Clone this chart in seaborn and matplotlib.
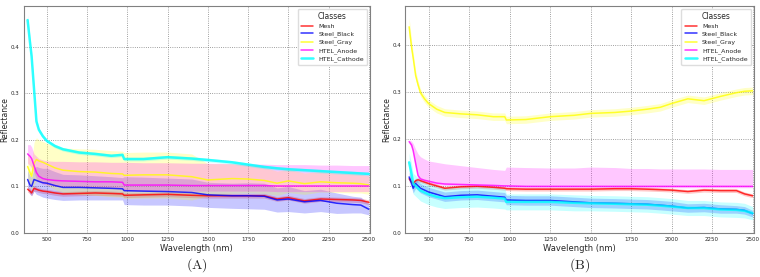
import numpy as np
import pandas as pd
import matplotlib
matplotlib.use('Agg')
import matplotlib.pyplot as plt
import seaborn as sns

wavelength = [380, 395, 405, 420, 435, 450, 475, 500, 550, 600, 700, 800, 900, 970, 980,
              1100, 1250, 1400, 1500, 1650, 1750, 1850, 1930, 2000, 2100, 2200, 2300,
              2400, 2450, 2500]

classes = ['Mesh', 'Steel_Black', 'Steel_Gray', 'HTEL_Anode', 'HTEL_Cathode']
colors = {'Mesh': 'red', 'Steel_Black': 'blue', 'Steel_Gray': 'yellow',
          'HTEL_Anode': 'magenta', 'HTEL_Cathode': 'cyan'}

# ---- panel (A) ----
a_mesh = [0.094, 0.090, 0.086, 0.096, 0.094, 0.092, 0.090, 0.089, 0.086, 0.084, 0.085, 0.086,
          0.085, 0.084, 0.081, 0.082, 0.083, 0.081, 0.080, 0.080, 0.080, 0.080, 0.073, 0.076,
          0.069, 0.073, 0.072, 0.071, 0.070, 0.066]
a_mesh_lo = [0.088, 0.084, 0.080, 0.090, 0.089, 0.087, 0.085, 0.084, 0.081, 0.079, 0.080, 0.081,
             0.080, 0.079, 0.076, 0.077, 0.078, 0.076, 0.075, 0.075, 0.075, 0.075, 0.068, 0.071,
             0.064, 0.068, 0.067, 0.066, 0.065, 0.061]
a_mesh_hi = [0.100, 0.096, 0.092, 0.102, 0.099, 0.097, 0.095, 0.094, 0.091, 0.089, 0.090, 0.091,
             0.090, 0.089, 0.086, 0.087, 0.088, 0.086, 0.085, 0.085, 0.085, 0.085, 0.078, 0.081,
             0.074, 0.078, 0.077, 0.076, 0.075, 0.071]

a_black = [0.115, 0.103, 0.100, 0.115, 0.113, 0.111, 0.108, 0.107, 0.102, 0.098, 0.098, 0.097,
           0.096, 0.095, 0.091, 0.090, 0.089, 0.087, 0.082, 0.080, 0.080, 0.079, 0.071, 0.073,
           0.067, 0.070, 0.064, 0.061, 0.060, 0.051]
a_black_lo = [0.095, 0.083, 0.080, 0.090, 0.083, 0.081, 0.077, 0.075, 0.072, 0.070, 0.071, 0.071,
              0.071, 0.071, 0.061, 0.060, 0.060, 0.058, 0.055, 0.053, 0.052, 0.051, 0.045, 0.046,
              0.043, 0.046, 0.042, 0.043, 0.043, 0.039]
a_black_hi = [0.135, 0.123, 0.120, 0.140, 0.143, 0.141, 0.139, 0.139, 0.132, 0.126, 0.125, 0.123,
              0.121, 0.119, 0.121, 0.120, 0.118, 0.116, 0.109, 0.107, 0.108, 0.107, 0.097, 0.100,
              0.091, 0.094, 0.086, 0.079, 0.077, 0.063]

a_gray = [0.143, 0.130, 0.122, 0.150, 0.158, 0.155, 0.152, 0.148, 0.140, 0.135, 0.132, 0.131,
          0.128, 0.127, 0.124, 0.125, 0.125, 0.121, 0.114, 0.117, 0.116, 0.113, 0.107, 0.112,
          0.106, 0.110, 0.108, 0.107, 0.106, 0.103]
a_gray_lo = [0.113, 0.100, 0.092, 0.105, 0.111, 0.110, 0.107, 0.103, 0.093, 0.087, 0.083, 0.081,
             0.078, 0.077, 0.074, 0.075, 0.075, 0.071, 0.079, 0.085, 0.086, 0.085, 0.081, 0.087,
             0.083, 0.088, 0.087, 0.086, 0.086, 0.083]
a_gray_hi = [0.173, 0.160, 0.152, 0.195, 0.205, 0.200, 0.197, 0.193, 0.187, 0.183, 0.181, 0.180,
             0.177, 0.176, 0.173, 0.174, 0.174, 0.170, 0.149, 0.149, 0.146, 0.141, 0.133, 0.137,
             0.129, 0.132, 0.129, 0.128, 0.126, 0.123]

a_anode = [0.170, 0.165, 0.160, 0.145, 0.130, 0.122, 0.117, 0.115, 0.113, 0.112, 0.111, 0.110,
           0.110, 0.109, 0.103, 0.103, 0.103, 0.102, 0.102, 0.102, 0.102, 0.102, 0.101, 0.101,
           0.101, 0.101, 0.101, 0.101, 0.101, 0.101]
a_anode_lo = [0.150, 0.145, 0.140, 0.130, 0.117, 0.110, 0.105, 0.103, 0.101, 0.100, 0.099, 0.098,
              0.098, 0.097, 0.091, 0.091, 0.091, 0.090, 0.090, 0.090, 0.090, 0.090, 0.089, 0.089,
              0.089, 0.089, 0.089, 0.089, 0.089, 0.089]
a_anode_hi = [0.190, 0.190, 0.185, 0.170, 0.165, 0.160, 0.157, 0.155, 0.154, 0.154, 0.153, 0.153,
              0.152, 0.152, 0.152, 0.151, 0.151, 0.150, 0.150, 0.149, 0.148, 0.148, 0.147, 0.147,
              0.147, 0.146, 0.146, 0.145, 0.145, 0.145]

a_cathode = [0.458, 0.410, 0.380, 0.310, 0.240, 0.222, 0.208, 0.198, 0.187, 0.180, 0.173, 0.170,
             0.166, 0.168, 0.159, 0.159, 0.163, 0.160, 0.157, 0.152, 0.147, 0.142, 0.139, 0.137,
             0.135, 0.133, 0.131, 0.129, 0.128, 0.127]
a_cathode_lo = [0.446, 0.398, 0.370, 0.302, 0.234, 0.217, 0.203, 0.194, 0.183, 0.176, 0.169, 0.166,
                0.162, 0.164, 0.155, 0.155, 0.159, 0.156, 0.153, 0.148, 0.143, 0.138, 0.135, 0.133,
                0.131, 0.129, 0.127, 0.125, 0.124, 0.123]
a_cathode_hi = [0.470, 0.422, 0.390, 0.318, 0.246, 0.227, 0.213, 0.202, 0.191, 0.184, 0.177, 0.174,
                0.170, 0.172, 0.163, 0.163, 0.167, 0.164, 0.161, 0.156, 0.151, 0.146, 0.143, 0.141,
                0.139, 0.137, 0.135, 0.133, 0.132, 0.131]

# ---- panel (B) ----
b_mesh = [0.115, 0.108, 0.105, 0.111, 0.113, 0.111, 0.108, 0.105, 0.100, 0.095, 0.098, 0.099,
          0.097, 0.095, 0.094, 0.093, 0.093, 0.093, 0.093, 0.094, 0.094, 0.093, 0.092, 0.091,
          0.088, 0.091, 0.090, 0.090, 0.083, 0.079]
b_mesh_lo = [0.110, 0.103, 0.100, 0.106, 0.109, 0.107, 0.104, 0.101, 0.096, 0.091, 0.094, 0.095,
             0.093, 0.091, 0.090, 0.089, 0.089, 0.089, 0.089, 0.090, 0.090, 0.089, 0.088, 0.087,
             0.084, 0.087, 0.086, 0.086, 0.079, 0.075]
b_mesh_hi = [0.120, 0.113, 0.110, 0.116, 0.117, 0.115, 0.112, 0.109, 0.104, 0.099, 0.102, 0.103,
             0.101, 0.099, 0.098, 0.097, 0.097, 0.097, 0.097, 0.098, 0.098, 0.097, 0.096, 0.095,
             0.092, 0.095, 0.094, 0.094, 0.087, 0.083]

b_black = [0.119, 0.106, 0.095, 0.105, 0.100, 0.095, 0.091, 0.087, 0.082, 0.077, 0.080, 0.081,
           0.078, 0.076, 0.070, 0.069, 0.069, 0.066, 0.064, 0.063, 0.062, 0.061, 0.059, 0.057,
           0.053, 0.054, 0.051, 0.050, 0.048, 0.041]
b_black_lo = [0.109, 0.096, 0.085, 0.095, 0.090, 0.085, 0.081, 0.077, 0.072, 0.067, 0.070, 0.071,
              0.068, 0.066, 0.060, 0.059, 0.059, 0.056, 0.054, 0.053, 0.052, 0.051, 0.049, 0.047,
              0.044, 0.045, 0.042, 0.042, 0.040, 0.034]
b_black_hi = [0.129, 0.116, 0.105, 0.115, 0.110, 0.105, 0.101, 0.097, 0.092, 0.087, 0.090, 0.091,
              0.088, 0.086, 0.080, 0.079, 0.079, 0.076, 0.074, 0.073, 0.072, 0.071, 0.069, 0.067,
              0.062, 0.063, 0.060, 0.058, 0.056, 0.048]

b_gray = [0.438, 0.395, 0.372, 0.335, 0.315, 0.298, 0.285, 0.275, 0.263, 0.256, 0.253, 0.251,
          0.247, 0.247, 0.240, 0.241, 0.247, 0.250, 0.254, 0.256, 0.259, 0.263, 0.267, 0.275,
          0.285, 0.281, 0.290, 0.298, 0.301, 0.302]
b_gray_lo = [0.418, 0.380, 0.360, 0.325, 0.306, 0.290, 0.277, 0.267, 0.255, 0.248, 0.245, 0.243,
             0.239, 0.239, 0.232, 0.233, 0.239, 0.242, 0.246, 0.248, 0.251, 0.255, 0.259, 0.267,
             0.277, 0.273, 0.282, 0.290, 0.293, 0.294]
b_gray_hi = [0.458, 0.410, 0.384, 0.345, 0.324, 0.306, 0.293, 0.283, 0.271, 0.264, 0.261, 0.259,
             0.255, 0.255, 0.248, 0.249, 0.255, 0.258, 0.262, 0.264, 0.267, 0.271, 0.275, 0.283,
             0.293, 0.289, 0.298, 0.306, 0.309, 0.310]

b_anode = [0.194, 0.187, 0.175, 0.148, 0.122, 0.115, 0.112, 0.110, 0.106, 0.104, 0.103, 0.102,
           0.101, 0.100, 0.100, 0.099, 0.099, 0.099, 0.099, 0.099, 0.099, 0.099, 0.099, 0.099,
           0.099, 0.099, 0.099, 0.099, 0.099, 0.099]
b_anode_lo = [0.190, 0.182, 0.168, 0.140, 0.116, 0.110, 0.108, 0.106, 0.103, 0.101, 0.100, 0.099,
              0.098, 0.097, 0.097, 0.096, 0.096, 0.096, 0.096, 0.096, 0.096, 0.096, 0.096, 0.096,
              0.096, 0.096, 0.096, 0.096, 0.096, 0.096]
b_anode_hi = [0.198, 0.195, 0.190, 0.178, 0.168, 0.162, 0.157, 0.153, 0.150, 0.147, 0.143, 0.139,
              0.135, 0.133, 0.140, 0.139, 0.138, 0.138, 0.140, 0.139, 0.137, 0.137, 0.136, 0.136,
              0.136, 0.136, 0.135, 0.135, 0.135, 0.135]

b_cathode = [0.150, 0.125, 0.105, 0.100, 0.095, 0.090, 0.086, 0.082, 0.077, 0.074, 0.076, 0.077,
             0.075, 0.073, 0.066, 0.066, 0.066, 0.064, 0.063, 0.062, 0.061, 0.060, 0.058, 0.056,
             0.053, 0.053, 0.050, 0.049, 0.047, 0.042]
b_cathode_lo = [0.130, 0.103, 0.083, 0.078, 0.073, 0.068, 0.064, 0.060, 0.055, 0.052, 0.054, 0.055,
                0.053, 0.051, 0.049, 0.049, 0.049, 0.047, 0.047, 0.046, 0.045, 0.044, 0.042, 0.040,
                0.037, 0.037, 0.034, 0.033, 0.032, 0.028]
b_cathode_hi = [0.170, 0.147, 0.127, 0.122, 0.117, 0.112, 0.108, 0.104, 0.099, 0.096, 0.098, 0.099,
                0.097, 0.095, 0.083, 0.083, 0.083, 0.081, 0.080, 0.079, 0.078, 0.077, 0.075, 0.073,
                0.069, 0.069, 0.066, 0.065, 0.063, 0.056]

panels = {
    '(A)': {'Mesh': (a_mesh, a_mesh_lo, a_mesh_hi),
            'Steel_Black': (a_black, a_black_lo, a_black_hi),
            'Steel_Gray': (a_gray, a_gray_lo, a_gray_hi),
            'HTEL_Anode': (a_anode, a_anode_lo, a_anode_hi),
            'HTEL_Cathode': (a_cathode, a_cathode_lo, a_cathode_hi)},
    '(B)': {'Mesh': (b_mesh, b_mesh_lo, b_mesh_hi),
            'Steel_Black': (b_black, b_black_lo, b_black_hi),
            'Steel_Gray': (b_gray, b_gray_lo, b_gray_hi),
            'HTEL_Anode': (b_anode, b_anode_lo, b_anode_hi),
            'HTEL_Cathode': (b_cathode, b_cathode_lo, b_cathode_hi)},
}

sns.set_style('whitegrid')
plt.rcParams['mathtext.fontset'] = 'cm'

fig = plt.figure(figsize=(7.6, 2.77), dpi=100)
boxes = {'(A)': [0.031, 0.159, 0.456, 0.819], '(B)': [0.533, 0.159, 0.459, 0.819]}
ylims = {'(A)': 0.488, '(B)': 0.482}

for name, series in panels.items():
    ax = fig.add_axes(boxes[name])
    rows = []
    for cls in classes:
        mean, lo, hi = series[cls]
        for w, m in zip(wavelength, mean):
            rows.append({'Wavelength': w, 'Reflectance': m, 'Classes': cls})
        ax.fill_between(wavelength, lo, hi, color=colors[cls], alpha=0.22, lw=0)
    df = pd.DataFrame(rows)
    sns.lineplot(data=df, x='Wavelength', y='Reflectance', hue='Classes',
                 palette=colors, hue_order=classes, ax=ax, alpha=0.8, lw=1.1)
    for line in ax.get_lines():
        if line.get_color() == 'cyan':
            line.set_linewidth(1.8)

    ax.set_xlim(355, 2508)
    ax.set_ylim(0, ylims[name])
    ax.set_xticks([500, 750, 1000, 1250, 1500, 1750, 2000, 2250, 2500])
    ax.set_yticks([0.0, 0.1, 0.2, 0.3, 0.4])
    ax.tick_params(labelsize=4, length=2, pad=1, color='gray')
    ax.set_xlabel('Wavelength (nm)', fontsize=6, labelpad=1)
    ax.set_ylabel('Reflectance', fontsize=5.5, labelpad=1)
    ax.grid(True, ls=':', color='gray', lw=0.6)
    for sp in ax.spines.values():
        sp.set_color('gray')
        sp.set_linewidth(0.8)
    leg = ax.legend(title='Classes', loc='upper right', fontsize=4.5, title_fontsize=5.5,
                    handlelength=2, borderpad=0.5, labelspacing=0.35, framealpha=1)
    leg.get_frame().set_edgecolor('#dddddd')

    x0 = boxes[name][0] + boxes[name][2] / 2
    fig.text(x0, 0.03, r'$\mathrm{' + name + '}$', ha='center', fontsize=10)

fig.savefig('out.png', dpi=100)
